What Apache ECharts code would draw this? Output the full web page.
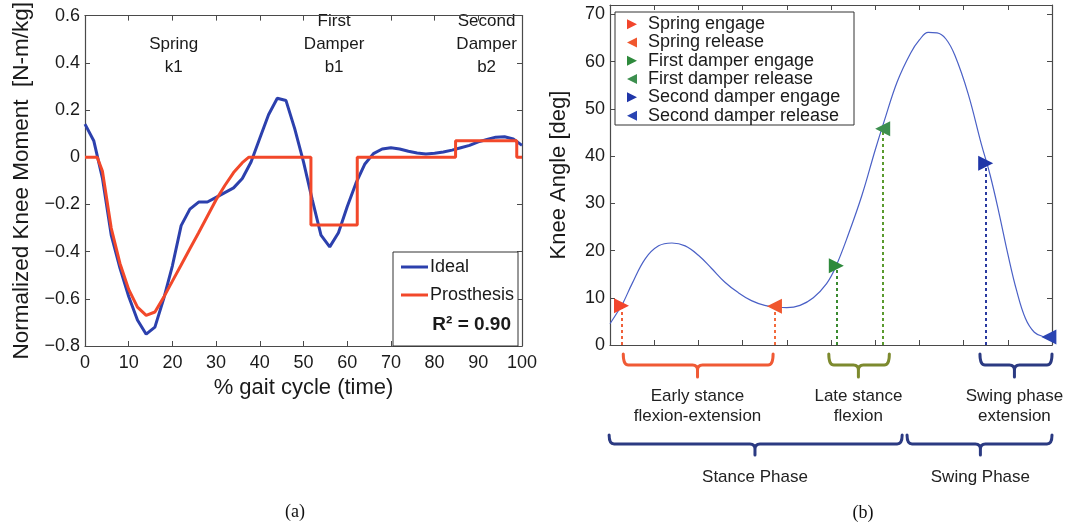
<!DOCTYPE html>
<html>
<head>
<meta charset="utf-8">
<script src="https://cdn.jsdelivr.net/npm/echarts@6/dist/echarts.min.js"></script>
<style>
  html, body { margin: 0; padding: 0; background: #fff; }
  #chart { width: 1065px; height: 529px; }
</style>
</head>
<body>
<div id="chart"></div>
<script>
// ---- (a) knee moment over the gait cycle ----
const idealPct = [0, 2, 4, 6, 8, 10, 12, 14, 16, 18, 20, 22, 24, 26, 28, 30, 32, 34, 36, 38, 40,
  42, 44, 46, 48, 50, 52, 54, 56, 58, 60, 62, 64, 66, 68, 70, 72, 74, 76, 78, 80,
  82, 84, 86, 88, 90, 92, 94, 96, 98, 100];
const idealMoment = [0.14, 0.07, -0.09, -0.33, -0.47, -0.59, -0.69, -0.75, -0.72, -0.6, -0.46,
  -0.29, -0.22, -0.19, -0.19, -0.17, -0.15, -0.13, -0.09, -0.02, 0.08,
  0.18, 0.25, 0.24, 0.12, -0.02, -0.18, -0.33, -0.38, -0.32, -0.21,
  -0.11, -0.03, 0.015, 0.035, 0.04, 0.035, 0.025, 0.018, 0.014, 0.017,
  0.022, 0.03, 0.04, 0.05, 0.065, 0.075, 0.085, 0.087, 0.077, 0.05];
const prosthesisPct = [0, 2.8, 4, 6, 8, 10, 12, 14, 16, 18, 20, 22, 24, 26, 28, 30, 32, 34, 36, 37.5,
  51.7, 51.7, 62.3, 62.3, 84.8, 84.8, 98.8, 98.8, 100];
const prosthesisMoment = [0, 0, -0.06, -0.3, -0.45, -0.56, -0.635, -0.67, -0.656, -0.594, -0.525,
  -0.457, -0.388, -0.32, -0.25, -0.18, -0.12, -0.065, -0.023, 0,
  0, -0.287, -0.287, 0, 0, 0.07, 0.07, 0, 0];
const elementNotes = [
  { x: 20.3, lines: ['Spring', 'k1'] },
  { x: 57, lines: ['First', 'Damper', 'b1'] },
  { x: 91.9, lines: ['Second', 'Damper', 'b2'] }
];
const fitR2 = 0.90;

// ---- (b) knee angle with component engagement events ----
const gaitPct = [0, 2, 3, 5, 8, 11, 14, 17, 20, 23, 26, 29, 32, 35, 38, 40, 43, 46, 49, 51,
  54, 57, 60, 62, 65, 68, 70, 72, 74, 76, 78, 81, 84, 86, 88, 90, 92, 94, 96, 98, 100];
const kneeAngle = [4.5, 7.4, 9.0, 13.0, 18.3, 21.0, 21.6, 21.0, 19.0, 16.2, 13.3, 11.1, 9.4, 8.4,
  8.0, 7.9, 8.4, 10.0, 13.0, 16.4, 23.6, 31.7, 41.3, 47.3, 55.8, 61.8, 64.6, 66.2, 66.1, 64.8,
  61.4, 53.3, 42.6, 36.0, 28.0, 19.3, 11.5, 5.6, 2.7, 1.8, 1.6];
const eventNames = ['Spring engage', 'Spring release', 'First damper engage',
  'First damper release', 'Second damper engage', 'Second damper release'];
const eventPct = [2.6, 37.2, 51.2, 61.7, 85.0, 99.3];
const eventAngle = [8.3, 8.2, 16.8, 45.8, 38.5, 1.7];
const eventEngages = [true, false, true, false, true, false];

const phaseLabels = ['Early stance\nflexion-extension', 'Late stance\nflexion',
  'Swing phase\nextension', 'Stance Phase', 'Swing Phase'];
const phaseStart = [3.0, 49.5, 83.7, -0.2, 67.2];
const phaseEnd = [36.9, 63.2, 100, 66.1, 100];
const phaseMid = [19.8, 56.2, 91.5, 32.8, 83.8];
const phaseLevel = [0, 0, 0, 1, 1];

// ---- styling ----
const FONT = 'Liberation Sans';
const AXIS_COLOR = '#4a4a4a';
const eventColors = ['#f2452c', '#f0572e', '#2e8a3c', '#3d8f4f', '#1f35a8', '#2a44b2'];
const dashColors = ['#f0603a', '#f26a3c', '#3a8a30', '#5a9a2e', '#2a3aa0', '#2a3aa0'];
const phaseColors = ['#f05a35', '#7d8a2e', '#2b3a82', '#2b3a82', '#2b3a82'];
const TRI_RIGHT = 'path://M0,0 L10,5 L0,10 Z';
const TRI_LEFT = 'path://M10,0 L0,5 L10,10 Z';

const zip = (xs, ys) => xs.map((x, i) => [x, ys[i]]);

function boxAxis(gridIndex, pos, min, max, interval, showLabel, labelFmt) {
  return {
    type: 'value', gridIndex, position: pos, min, max, interval,
    axisLine: { show: true, onZero: false, lineStyle: { color: AXIS_COLOR, width: 1.2 } },
    axisTick: { show: true, inside: true, length: 5, lineStyle: { color: AXIS_COLOR } },
    splitLine: { show: false },
    axisLabel: showLabel ? {
      show: true, fontFamily: FONT, fontSize: 18, color: '#1a1a1a',
      margin: pos === 'bottom' ? 8 : 5, formatter: labelFmt, showMaxLabel: true
    } : { show: false }
  };
}

const momentFmt = v => {
  if (Math.abs(v) < 1e-9) return '0';
  return (v < 0 ? '\u2212' : '') + Math.abs(v).toFixed(1);
};
const angleFmt = v => (Math.abs(v % 10) < 1e-9 ? String(v) : '');

const xA = boxAxis(0, 'bottom', 0, 100, 10, true, v => String(v));
xA.name = '% gait cycle (time)';
xA.nameLocation = 'middle';
xA.nameGap = 31;
xA.nameTextStyle = { fontFamily: FONT, fontSize: 22, color: '#1a1a1a' };

const yA = boxAxis(0, 'left', -0.8, 0.6, 0.2, true, momentFmt);
yA.name = 'Normalized Knee Moment  [N-m/kg]';
yA.nameLocation = 'middle';
yA.nameGap = 52;
yA.nameTextStyle = { fontFamily: FONT, fontSize: 22.5, color: '#1a1a1a' };

const yB = boxAxis(1, 'left', 0, 72, 10, true, angleFmt);
yB.name = 'Knee Angle [deg]';
yB.nameLocation = 'middle';
yB.nameGap = 40;
yB.nameTextStyle = { fontFamily: FONT, fontSize: 22, color: '#1a1a1a' };

const eventSeries = eventNames.map((name, i) => ({
  name, type: 'scatter', xAxisIndex: 2, yAxisIndex: 2,
  symbol: 'triangle', symbolSize: 15, symbolRotate: eventEngages[i] ? -90 : 90,
  itemStyle: { color: eventColors[i], opacity: 1 },
  z: 5,
  data: [[eventPct[i], eventAngle[i]]],
  markLine: {
    silent: true, symbol: 'none', animation: false,
    label: { show: false },
    lineStyle: { color: dashColors[i], type: [3, 3], width: 2 },
    data: i === 5 ? [] : [[{ coord: [eventPct[i], 0] }, { coord: [eventPct[i], eventAngle[i]] }]]
  }
}));

const braceSeries = {
  type: 'custom', xAxisIndex: 2, yAxisIndex: 2, clip: false, silent: true, z: 3,
  data: phaseStart.map((s, i) => [s, phaseEnd[i], phaseMid[i], phaseLevel[i]]),
  renderItem(params, api) {
    const i = params.dataIndex;
    const x0 = api.coord([api.value(0), 0])[0];
    const x1 = api.coord([api.value(1), 0])[0];
    const xm = api.coord([api.value(2), 0])[0];
    const base = api.coord([0, 0])[1];
    const lvl = api.value(3);
    const yEnd = base + (lvl ? 90 : 9);
    const yMid = base + (lvl ? 99 : 20);
    const yTip = base + (lvl ? 110 : 32);
    const r = 5;
    const d = `M${x0},${yEnd} Q${x0},${yMid} ${x0 + r},${yMid} L${xm - r},${yMid} Q${xm},${yMid} ${xm},${yMid + r} L${xm},${yTip}` +
      ` M${xm},${yMid + r} Q${xm},${yMid} ${xm + r},${yMid} L${x1 - r},${yMid} Q${x1},${yMid} ${x1},${yEnd}`;
    return {
      type: 'group',
      children: [
        { type: 'path', shape: { pathData: d },
          style: { stroke: phaseColors[i], lineWidth: 3, fill: null, lineCap: 'round', lineJoin: 'round' } },
        { type: 'text',
          style: { text: phaseLabels[i], x: xm, y: base + (lvl ? 122 : 41),
            align: 'center', verticalAlign: 'top', fontFamily: FONT, fontSize: 17,
            lineHeight: 20, fill: '#222' } }
      ]
    };
  }
};

const chart = echarts.init(document.getElementById('chart'), null, { renderer: 'canvas' });

const option = {
  animation: false,
  backgroundColor: '#ffffff',
  grid: [
    { left: 85, top: 6, width: 437, height: 340, containLabel: false },
    { left: 610, top: 5, width: 442, height: 340, containLabel: false }
  ],
  xAxis: [
    xA,
    boxAxis(0, 'top', 0, 100, 10, false),
    boxAxis(1, 'bottom', 0, 100, 10, false),
    boxAxis(1, 'top', 0, 100, 10, false)
  ],
  yAxis: [
    yA,
    boxAxis(0, 'right', -0.8, 0.6, 0.2, false),
    yB,
    boxAxis(1, 'right', 0, 72, 10, false)
  ],
  legend: [
    {
      data: [
        { name: 'Ideal', icon: 'rect', itemStyle: { color: '#2c40ad' } },
        { name: 'Prosthesis', icon: 'rect', itemStyle: { color: '#f2482a' } }
      ],
      orient: 'vertical', left: 396, top: 252,
      itemWidth: 27, itemHeight: 3, itemGap: 8, selectedMode: false,
      textStyle: { fontFamily: FONT, fontSize: 18, color: '#1a1a1a', lineHeight: 20,
        padding: [0, 0, 0, -3] }
    },
    {
      data: eventNames.map((name, i) => ({ name, icon: eventEngages[i] ? TRI_RIGHT : TRI_LEFT })),
      orient: 'vertical', left: 622, top: 10,
      itemWidth: 10, itemHeight: 10, itemGap: 0, selectedMode: false,
      textStyle: { fontFamily: FONT, fontSize: 18, color: '#1a1a1a', lineHeight: 18.3,
        padding: [0, 0, 0, 6] }
    }
  ],
  series: [
    {
      name: 'Ideal', type: 'line', xAxisIndex: 0, yAxisIndex: 0, symbol: 'none',
      lineStyle: { color: '#2c40ad', width: 3 }, itemStyle: { color: '#2c40ad' }, z: 3,
      data: zip(idealPct, idealMoment)
    },
    {
      name: 'Prosthesis', type: 'line', xAxisIndex: 0, yAxisIndex: 0, symbol: 'none',
      lineStyle: { color: '#f2482a', width: 3 }, itemStyle: { color: '#f2482a' }, z: 4,
      data: zip(prosthesisPct, prosthesisMoment)
    },
    {
      name: 'Knee angle', type: 'line', xAxisIndex: 2, yAxisIndex: 2, symbol: 'none',
      smooth: 0.4, lineStyle: { color: '#4a60c6', width: 1.2 }, z: 2,
      data: zip(gaitPct, kneeAngle)
    },
    ...eventSeries,
    braceSeries
  ],
  graphic: [
    // legend frame of (a)
    { type: 'rect', shape: { x: 393, y: 252, width: 125, height: 94 },
      style: { fill: '#fff', stroke: '#333', lineWidth: 1 }, z: 1 },
    { type: 'text', x: 511, y: 325, z: 10,
      style: { text: 'R\u00b2 = ' + fitR2.toFixed(2), align: 'right', verticalAlign: 'middle',
        fontFamily: FONT, fontSize: 19, fontWeight: 'bold', fill: '#1a1a1a' } },
    // legend frame of (b)
    { type: 'rect', shape: { x: 615, y: 12, width: 239, height: 113 },
      style: { fill: '#fff', stroke: '#333', lineWidth: 1 }, z: 1 },
    { type: 'text', x: 295, y: 512,
      style: { text: '(a)', align: 'center', verticalAlign: 'middle',
        fontFamily: 'Liberation Serif', fontSize: 18, fill: '#111' } },
    { type: 'text', x: 863, y: 513,
      style: { text: '(b)', align: 'center', verticalAlign: 'middle',
        fontFamily: 'Liberation Serif', fontSize: 18, fill: '#111' } }
  ]
};

// component labels above the moment curves
elementNotes.forEach(n => {
  n.lines.forEach((t, k) => {
    const startRow = 3 - n.lines.length;
    option.graphic.push({
      type: 'text', x: 85 + 4.37 * n.x, y: 21 + 23 * (startRow + k),
      style: { text: t, align: 'center', verticalAlign: 'middle', fontFamily: FONT,
        fontSize: 17, fill: '#1a1a1a' }
    });
  });
});

chart.setOption(option);
</script>
</body>
</html>
